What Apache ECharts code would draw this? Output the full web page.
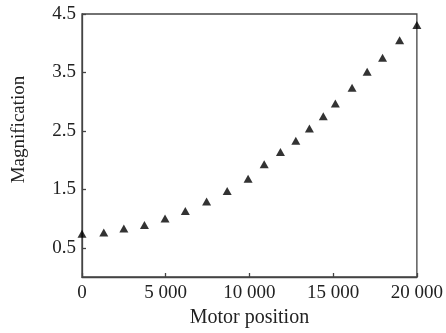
<!DOCTYPE html>
<html>
<head>
<meta charset="utf-8">
<script src="https://cdn.jsdelivr.net/npm/echarts@6/dist/echarts.min.js"></script>
<style>
  html, body { margin: 0; padding: 0; background: #fff; }
  #chart { width: 446px; height: 333px; }
</style>
</head>
<body>
<div id="chart"></div>
<script>
// motor position vs magnification
const motorPos = [0, 1300, 2500, 3730, 4960, 6170, 7440, 8670, 9920, 10880,
  11850, 12770, 13580, 14410, 15130, 16130, 17030, 17950, 18970, 20000];
const magnification = [0.74, 0.76, 0.83, 0.89, 1.0, 1.13, 1.29, 1.47, 1.68, 1.93,
  2.14, 2.33, 2.54, 2.75, 2.97, 3.24, 3.51, 3.75, 4.05, 4.31];
const yTicks = [0.5, 1.5, 2.5, 3.5, 4.5];

const axisColor = '#444';
const textColor = '#222';
const font = 'Liberation Serif';

const chart = echarts.init(document.getElementById('chart'));

// "20 000" style grouping
const fmtX = (v) => String(v).replace(/(\d)(\d{3})$/, '$1 $2');

chart.setOption({
  animation: false,
  backgroundColor: '#fff',
  grid: {
    left: 82,
    right: 23,
    top: 14,
    bottom: 54,
    show: true,
    borderColor: axisColor,
    borderWidth: 1.3
  },
  xAxis: {
    type: 'value',
    min: 0,
    max: 20000,
    interval: 5000,
    name: 'Motor position',
    nameLocation: 'middle',
    nameGap: 31,
    nameTextStyle: { color: textColor, fontFamily: font, fontSize: 20 },
    axisLine: { lineStyle: { color: axisColor, width: 1.3 } },
    axisTick: { inside: true, length: 4, lineStyle: { color: axisColor, width: 1.3 } },
    axisLabel: { color: textColor, fontFamily: font, fontSize: 19, margin: 7, formatter: fmtX },
    splitLine: { show: false }
  },
  yAxis: {
    type: 'value',
    min: 0,
    max: 4.5,
    name: 'Magnification',
    nameLocation: 'middle',
    nameGap: 53,
    nameTextStyle: { color: textColor, fontFamily: font, fontSize: 19, padding: [0, 0, 0, 32] },
    axisLine: { lineStyle: { color: axisColor, width: 1.3 } },
    axisTick: { inside: true, length: 4, customValues: yTicks, lineStyle: { color: axisColor, width: 1.3 } },
    axisLabel: { color: textColor, fontFamily: font, fontSize: 19, margin: 6, customValues: yTicks,
      formatter: (v) => v.toFixed(1) },
    splitLine: { show: false }
  },
  series: [{
    type: 'scatter',
    data: motorPos.map((x, i) => [x, magnification[i]]),
    symbol: 'triangle',
    symbolSize: [9, 8],
    clip: false,
    itemStyle: { color: '#000' }
  }]
});
</script>
</body>
</html>
